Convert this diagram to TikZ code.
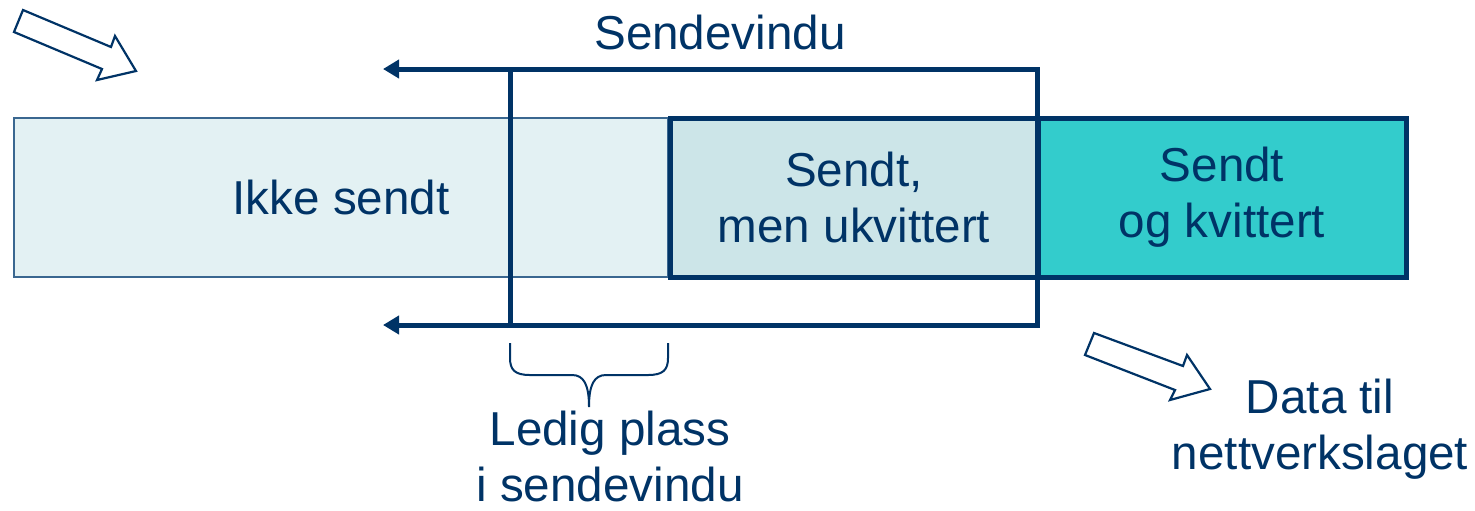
\documentclass[tikz,border=0pt]{standalone}
\usepackage{fontspec}
\setmainfont{Liberation Sans}
\usetikzlibrary{arrows.meta}
\definecolor{navy}{HTML}{003366}
\definecolor{paleband}{HTML}{E3F1F3}
\definecolor{midband}{HTML}{CCE5E8}
\definecolor{tealband}{HTML}{33CCCC}
\definecolor{thinedge}{HTML}{3A6790}
\begin{document}
\begin{tikzpicture}[x=0.5pt,y=-0.5pt,
  txt/.style={text=navy,font=\fontsize{23.8}{28}\selectfont,align=center,inner sep=0pt},
  band/.style={rectangle,inner sep=0pt,outer sep=0pt,minimum height=79.5pt,anchor=north west,
    text=navy,font=\fontsize{23.8}{28}\selectfont,align=center},
  heavy/.style={draw=navy,line width=2.5pt},
  movearrow/.style={draw=navy,line width=2.5pt,-{Triangle[length=8pt,width=9pt]}},
  hollow/.style={draw=navy,line width=1.1pt,fill=white,line join=miter}]
\useasboundingbox (0,0) rectangle (1475,510);

% queue of segments
\node[band,fill=paleband,draw=thinedge,line width=0.9pt,minimum width=327pt] (unsent) at (14,118) {Ikke sendt};
\node[band,fill=midband,heavy,minimum width=184pt] (unacked) at (670,118) {Sendt,\\men ukvittert};
\node[band,fill=tealband,heavy,minimum width=184pt] (acked) at (1038,118) {Sendt\\og kvittert};

% the send window
\node[rectangle,heavy,inner sep=0pt,outer sep=0pt,minimum width=263.5pt,minimum height=128pt,anchor=north west] (win) at (510,69) {};
\node[txt] (wintitle) at (720,32) {Sendevindu};

% window moves to the left
\coordinate (topend) at (383,69);
\coordinate (botend) at (383,325);
\draw[movearrow] (win.north west) -- (topend);
\draw[movearrow] (win.south west) -- (botend);

% brace under the free space
\coordinate (bl) at (510,343);
\coordinate (br) at (668,343);
\coordinate (btip) at (589,407);
\draw[navy,line width=1pt]
  (bl) -- (510,358) .. controls (510,370) and (515,375) .. (530,375)
  -- (572,375) .. controls (584,375) and (589,385) .. (btip)
  .. controls (589,385) and (594,375) .. (606,375)
  -- (648,375) .. controls (663,375) and (668,370) .. (668,358) -- (br);
\node[txt] (free) at (610,456) {Ledig plass\\i sendevindu};

% data in and out
\draw[hollow] (23,10) -- (111,47) -- (115,36) -- (136,71) -- (97,80) -- (102,69) -- (14,32) -- cycle;
\draw[hollow] (1094,333) -- (1183,366) -- (1187,355) -- (1210,389) -- (1170,400) -- (1175,390) -- (1085,355) -- cycle;
\node[txt] (net) at (1320,429) {Data til\\nettverkslaget};
\end{tikzpicture}
\end{document}
